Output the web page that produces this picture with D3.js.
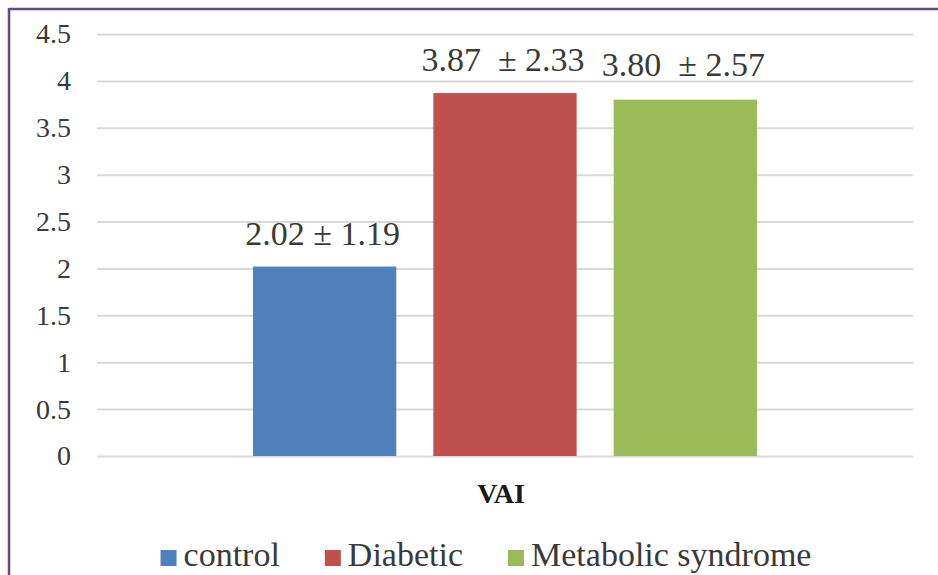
<!DOCTYPE html>
<html>
<head>
<meta charset="utf-8">
<script src="https://cdn.jsdelivr.net/npm/d3@7"></script>
<style>
  html, body { margin: 0; padding: 0; background: #fff; }
  svg { display: block; }
</style>
</head>
<body>
<svg id="chart" width="938" height="575" font-family="Liberation Serif"></svg>
<script>
// Chart data
const categories = ["VAI"];
const series = ["control", "Diabetic", "Metabolic syndrome"];
const means = [2.02, 3.87, 3.80];
const sds = [1.19, 2.33, 2.57];
const colors = ["#4f81bd", "#c0504d", "#9bbb59"];
const yTicks = [0, 0.5, 1, 1.5, 2, 2.5, 3, 3.5, 4, 4.5];

// Layout
const W = 938, H = 575;
const FONT = "Liberation Serif";
const TEXT = "#3a3a3a";
const plot = { left: 97, right: 913, top: 34, bottom: 456 };
const labelGap = [22, 22, 24];
const labelSep = [" ", "  ", "  "];

const svg = d3.select("#chart");

// Frame lines along the top and left edges
svg.append("line").attr("x1", 9).attr("x2", W).attr("y1", 9).attr("y2", 9)
  .attr("stroke", "#604a8c").attr("stroke-width", 2.5);
svg.append("line").attr("x1", 9).attr("x2", 9).attr("y1", 8).attr("y2", H)
  .attr("stroke", "#604a8c").attr("stroke-width", 2.5);

const y = d3.scaleLinear().domain([0, 4.5]).range([plot.bottom, plot.top]);
const x0 = d3.scaleBand().domain(categories).range([plot.left, plot.right])
  .paddingInner(0).paddingOuter(0.3095);
const x1 = d3.scaleBand().domain(series).range([0, x0.bandwidth()])
  .paddingInner(0.2055).paddingOuter(0);

// Gridlines and tick labels
const yAxis = d3.axisLeft(y).tickValues(yTicks)
  .tickSize(-(plot.right - plot.left)).tickPadding(26)
  .tickFormat(d => String(d));
const gy = svg.append("g").attr("transform", `translate(${plot.left},0)`).call(yAxis);
gy.attr("font-family", FONT).attr("font-size", 28);
gy.select(".domain").remove();
gy.selectAll(".tick line").attr("stroke", "#d9d9d9").attr("stroke-width", 2);
gy.selectAll(".tick text").attr("font-family", FONT).attr("font-size", 28).attr("fill", TEXT);

// Bars
const g = svg.append("g").attr("transform", `translate(${x0("VAI")},0)`);
g.selectAll("rect.bar").data(series).join("rect")
  .attr("class", "bar")
  .attr("x", d => x1(d))
  .attr("width", x1.bandwidth())
  .attr("y", (d, i) => y(means[i]))
  .attr("height", (d, i) => y(0) - y(means[i]))
  .attr("fill", (d, i) => colors[i]);

// Mean ± SD captions
g.selectAll("text.val").data(series).join("text")
  .attr("class", "val")
  .attr("x", d => x1(d) + x1.bandwidth() / 2 - 2)
  .attr("y", (d, i) => y(means[i]) - labelGap[i])
  .attr("text-anchor", "middle")
  .attr("font-family", FONT).attr("font-size", 34).attr("fill", TEXT)
  .attr("xml:space", "preserve")
  .text((d, i) => `${means[i].toFixed(2)}${labelSep[i]}± ${sds[i].toFixed(2)}`);

// Category label
svg.append("text")
  .attr("x", x0("VAI") + x0.bandwidth() / 2 - 4)
  .attr("y", 503)
  .attr("text-anchor", "middle")
  .attr("font-family", FONT).attr("font-size", 28)
  .attr("font-weight", "bold").attr("fill", "#1a1a1a")
  .text(categories[0]);

// Legend
const legend = svg.append("g");
const items = legend.selectAll("g").data(series).join("g");
items.append("rect").attr("width", 16).attr("height", 16).attr("y", 550)
  .attr("fill", (d, i) => colors[i]);
items.append("text").attr("x", 23).attr("y", 566)
  .attr("font-family", FONT).attr("font-size", 34).attr("fill", TEXT)
  .text(d => d);
let cx = 0;
items.each(function () {
  const item = d3.select(this);
  item.attr("transform", `translate(${cx},0)`);
  cx += 23 + item.select("text").node().getComputedTextLength() + 45;
});
const legendW = cx - 45;
legend.attr("transform", `translate(${486 - legendW / 2},0)`);
</script>
</body>
</html>
